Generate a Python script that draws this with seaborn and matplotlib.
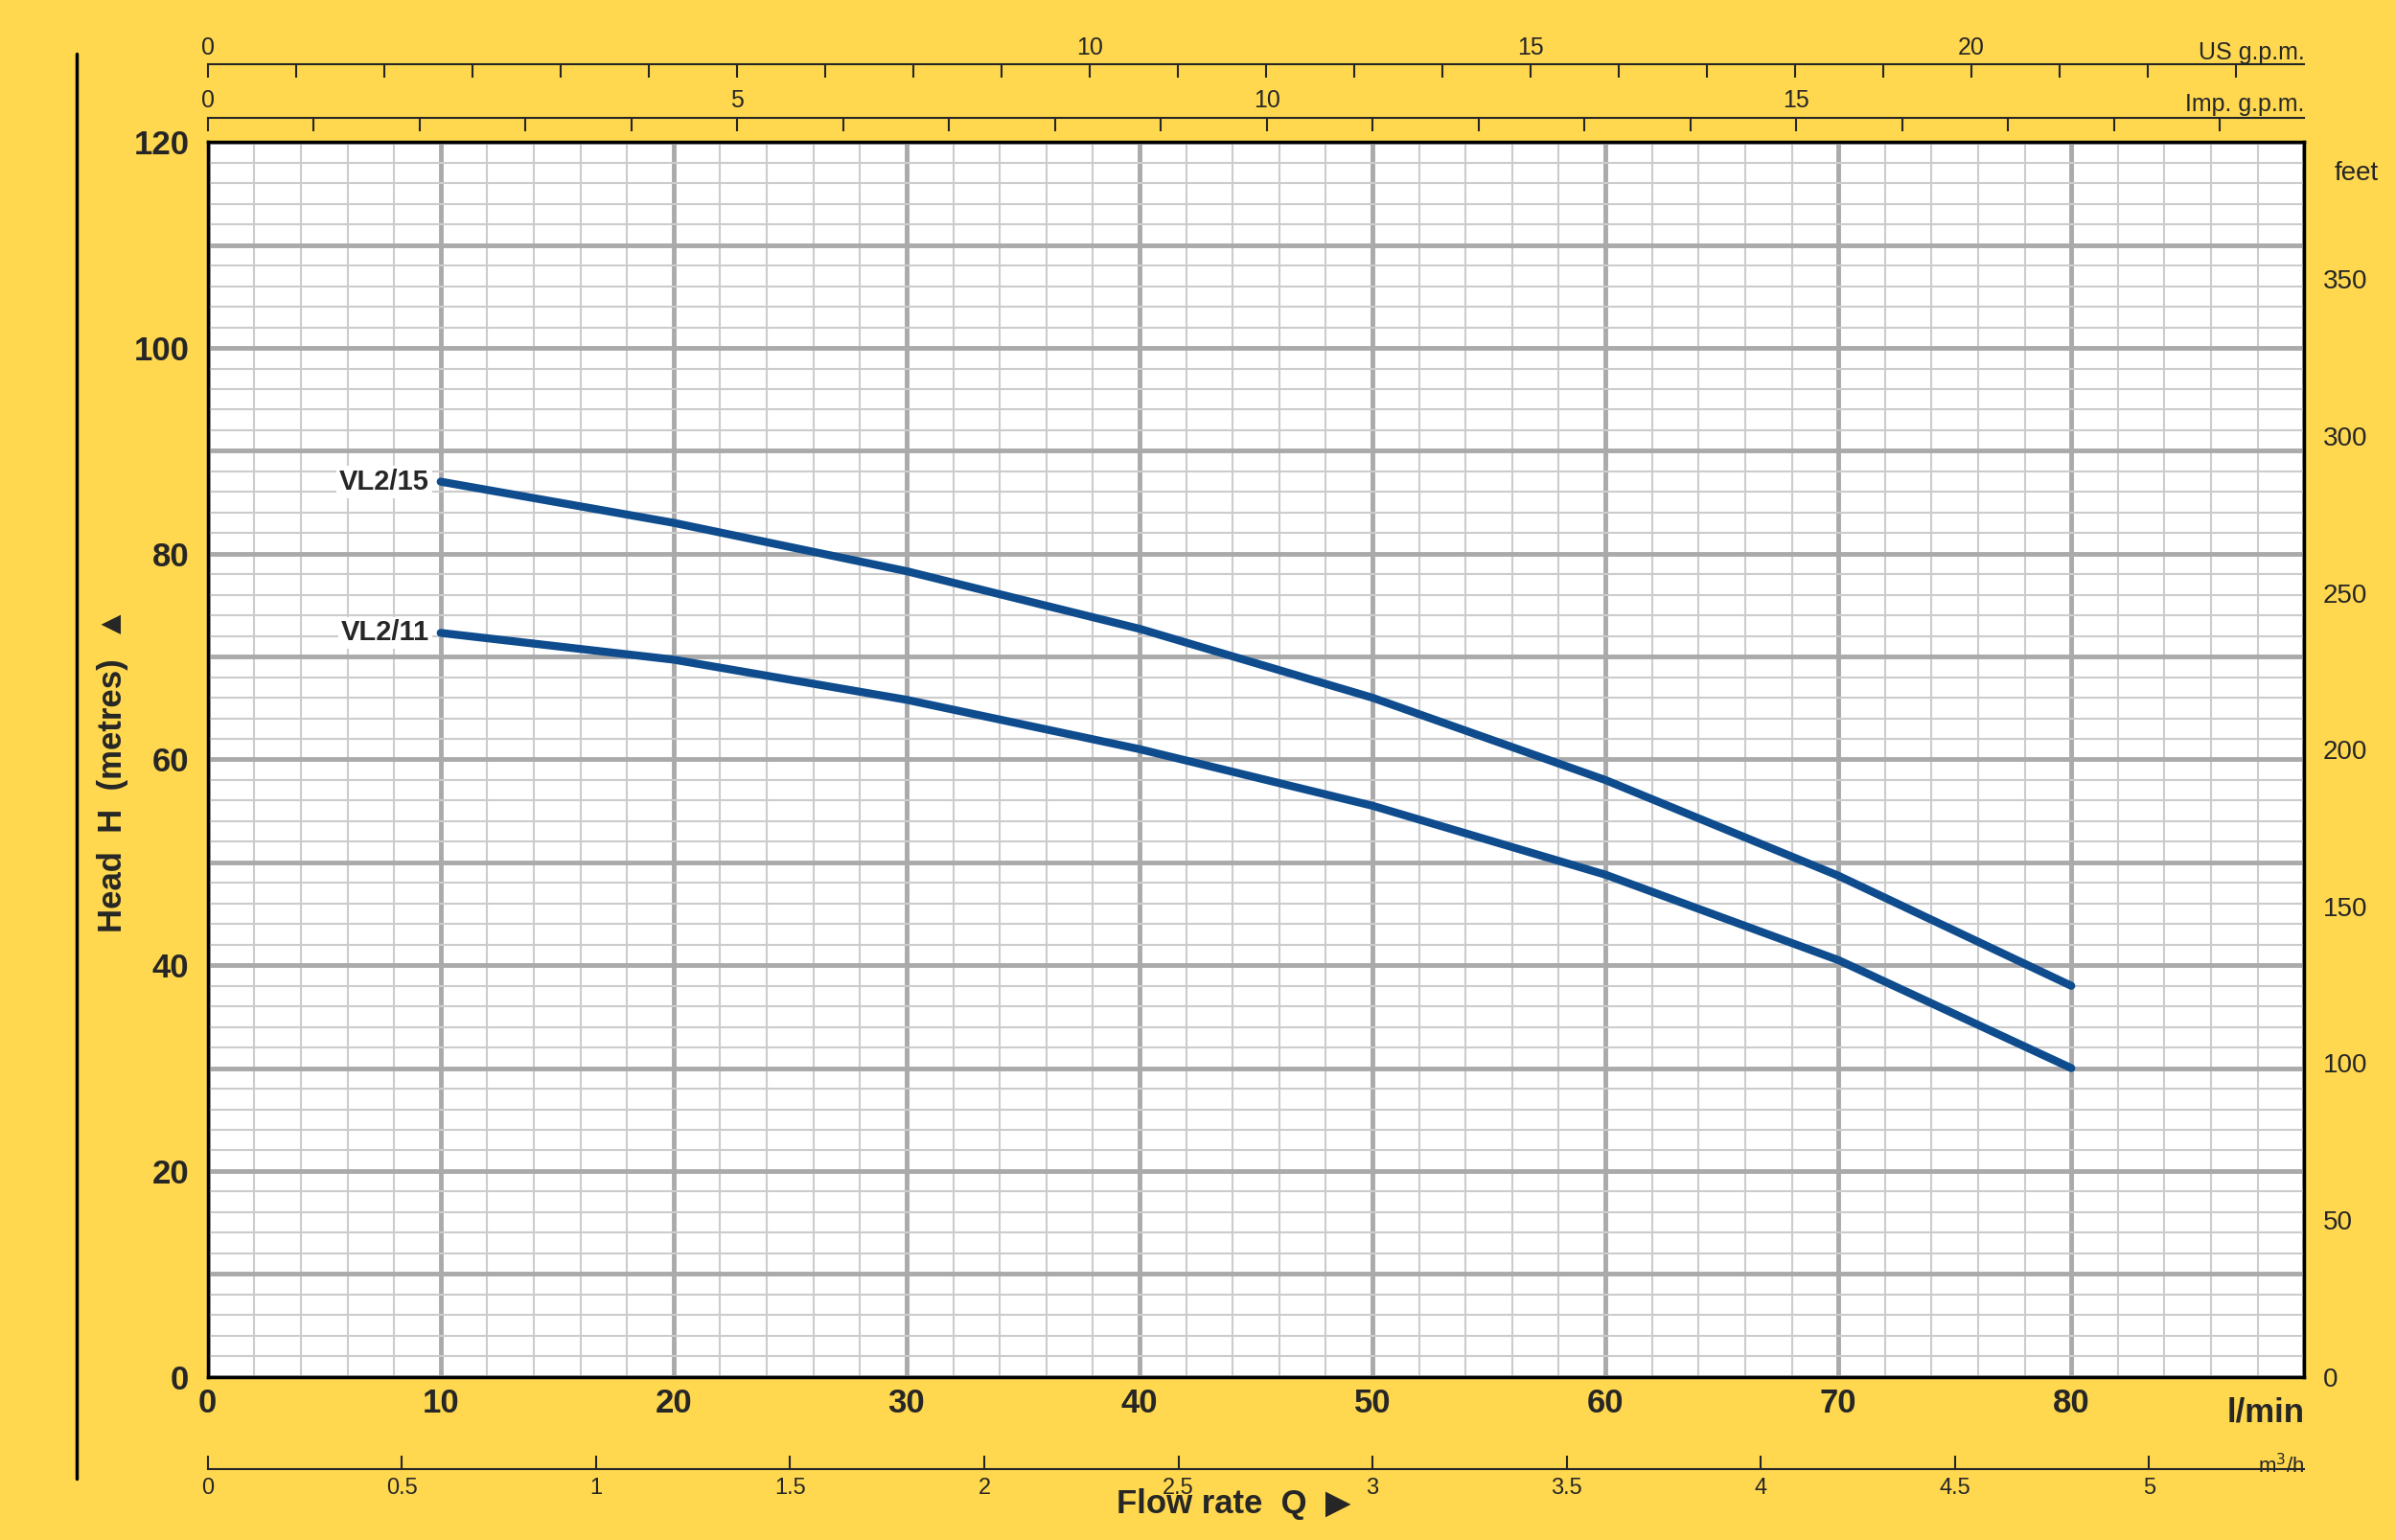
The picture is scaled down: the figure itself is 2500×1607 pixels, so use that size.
import matplotlib
matplotlib.use("Agg")
import matplotlib.pyplot as plt
import seaborn as sns
import numpy as np
import pandas as pd
from matplotlib.lines import Line2D

flow = [10, 20, 30, 40, 50, 60, 70, 80]
vl215 = [87, 83, 78.3, 72.7, 66, 58, 48.7, 38]
vl211 = [72.3, 69.7, 65.8, 61, 55.5, 48.8, 40.5, 30]
names = ["VL2/15", "VL2/11"]

df = pd.concat([pd.DataFrame({"Q": flow, "H": vl215, "pump": names[0]}),
                pd.DataFrame({"Q": flow, "H": vl211, "pump": names[1]})])

sns.set_theme(style="white")
plt.rcParams['font.family'] = ['Liberation Sans', 'DejaVu Sans']
bg = "#FFD84F"
blue = "#0E4C8E"
fig = plt.figure(figsize=(25, 16.07), dpi=100, facecolor=bg)
ax = fig.add_axes([0.0867, 0.106, 0.8750, 0.8017])
ax.set_facecolor("white")

ax.set_xlim(0, 90); ax.set_ylim(0, 120)
for x in np.arange(0, 91, 2):
    ax.axvline(x, color="#cccccc", lw=1.5, zorder=0)
for x in np.arange(0, 91, 10):
    ax.axvline(x, color="#aaaaaa", lw=3.5, zorder=0)
for y in np.arange(0, 121, 2):
    ax.axhline(y, color="#cccccc", lw=1.5, zorder=0)
for y in np.arange(0, 121, 10):
    ax.axhline(y, color="#aaaaaa", lw=3.5, zorder=0)

sns.lineplot(data=df, x="Q", y="H", hue="pump", palette=[blue, blue], lw=6,
             legend=False, ax=ax, zorder=3)
ax.text(flow[0] - 0.5, vl215[0], names[0], ha="right", va="center", fontsize=21,
        fontweight="bold", bbox=dict(fc="white", ec="none", pad=2))
ax.text(flow[0] - 0.5, vl211[0], names[1], ha="right", va="center", fontsize=21,
        fontweight="bold", bbox=dict(fc="white", ec="none", pad=2))

for s in ax.spines.values():
    s.set_color("black"); s.set_linewidth(2.5)

# bottom l/min
ax.set_xticks(np.arange(0, 81, 10))
ax.tick_params(axis="x", labelsize=25, length=0, pad=8)
for l in ax.get_xticklabels():
    l.set_fontweight("bold")
ax.text(90, -3.5, "l/min", ha="right", va="center", fontsize=25, fontweight="bold")
ax.set_yticks(np.arange(0, 121, 20))
ax.tick_params(axis="y", labelsize=25, length=0, pad=14)
for l in ax.get_yticklabels():
    l.set_fontweight("bold")
ax.set_xlabel(""); ax.set_ylabel("")

# right feet axis
fa = ax.secondary_yaxis("right", functions=(lambda m: m * 3.2808, lambda f: f / 3.2808))
fa.set_yticks(np.arange(0, 351, 50))
fa.tick_params(labelsize=20, length=0, pad=14)
fa.spines["right"].set_visible(False)
ax.text(91.3, 117, "feet", ha="left", va="center", fontsize=20)

# m3/h
ma = ax.secondary_xaxis(-0.075, functions=(lambda q: q / 16.667, lambda m: m * 16.667))
ma.set_xticks(np.arange(0, 5.01, 0.5))
ma.set_xticklabels(["0", "0.5", "1", "1.5", "2", "2.5", "3", "3.5", "4", "4.5", "5"])
ma.tick_params(labelsize=17, length=10, width=1.5, direction="in", pad=6)
ma.spines["bottom"].set_linewidth(1.5)
ax.text(90, -8.7, "m$^3$/h", ha="right", va="center", fontsize=16, clip_on=False)

# US gpm
ua = ax.secondary_xaxis(1.063, functions=(lambda q: q / 3.785, lambda g: g * 3.785))
ua.set_xticks([0, 10, 15, 20])
ua.set_xticks(np.arange(0, 24, 1), minor=True)
ua.tick_params(which="both", labelsize=18, length=10, width=1.5, direction="in", pad=4)
ua.spines["top"].set_linewidth(1.5)
ax.text(90, 128.7, "US g.p.m.", ha="right", va="center", fontsize=18)

ia = ax.secondary_xaxis(1.02, functions=(lambda q: q / 4.546, lambda g: g * 4.546))
ia.set_xticks([0, 5, 10, 15])
ia.set_xticks(np.arange(0, 20, 1), minor=True)
ia.tick_params(which="both", labelsize=18, length=10, width=1.5, direction="in", pad=4)
ia.spines["top"].set_linewidth(1.5)
ax.text(90, 123.7, "Imp. g.p.m.", ha="right", va="center", fontsize=18)

fig.text(0.047, 0.5, "Head  H  (metres)  \u25b2", rotation=90, ha="center", va="center",
         fontsize=25, fontweight="bold")
fig.text(0.515, 0.013, "Flow rate  Q  \u25b6", ha="center", va="bottom",
         fontsize=25, fontweight="bold")
fig.add_artist(Line2D([0.032, 0.032], [0.04, 0.965], color="black", lw=2.5,
                      transform=fig.transFigure))

fig.savefig("out.png", dpi=100, facecolor=bg)
